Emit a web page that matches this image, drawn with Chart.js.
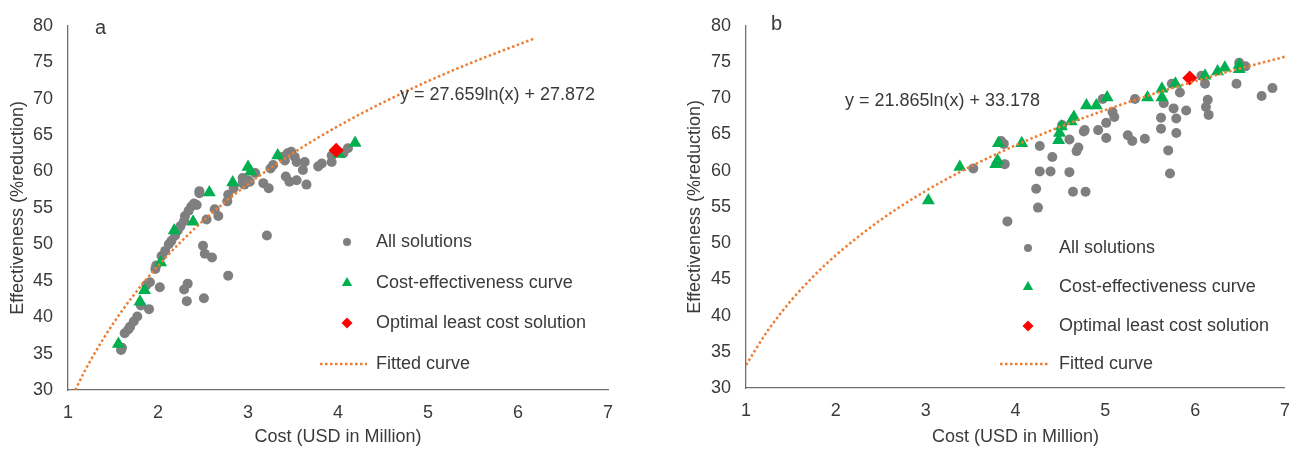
<!DOCTYPE html>
<html><head><meta charset="utf-8">
<script src="https://cdn.jsdelivr.net/npm/chart.js@4.4.1/dist/chart.umd.min.js"></script>
<style>
html,body{margin:0;padding:0;background:#fff;}
#wrap{position:relative;width:1302px;height:449px;overflow:hidden;background:#fff;}
.pane{position:absolute;top:0;width:651px;height:449px;}
#pa{left:0}#pb{left:651px}
</style></head><body>
<div id="wrap">
<div class="pane" id="pa"><canvas id="ca" width="651" height="449"></canvas></div>
<div class="pane" id="pb"><canvas id="cb" width="651" height="449"></canvas></div>
</div>
<script>
// ---------- tick labels ----------
const xTickValues = [1, 2, 3, 4, 5, 6, 7];
const yTickValues = [30, 35, 40, 45, 50, 55, 60, 65, 70, 75, 80];
const xTitle = 'Cost (USD in Million)';
const yTitle = 'Effectiveness (%reduction)';
const legendLabels = ['All solutions', 'Cost-effectiveness curve', 'Optimal least cost solution', 'Fitted curve'];

// ---------- panel a ----------
const aAllX = [1.59,1.60,1.63,1.67,1.69,1.73,1.77,1.81,1.90,1.87,1.91,1.97,1.98,2.02,2.04,2.08,2.12,2.15,2.19,2.22,2.25,2.29,2.30,2.34,2.37,2.40,2.43,2.46,2.46,2.54,2.63,2.67,2.77,2.78,2.84,2.94,3.00,2.94,2.96,3.02,3.08,3.17,3.23,3.25,3.28,3.44,3.48,3.52,3.54,3.63,3.61,3.42,3.46,3.54,3.65,3.78,3.82,3.93,3.93,4.06,4.11,3.21,2.50,2.52,2.60,2.78,2.33,2.29,2.32,2.51,3.38,3.41];
const aAllY = [35.5,35.8,37.8,38.3,38.7,39.4,40.1,41.6,41.1,44.4,44.8,46.6,47.1,44.1,48.4,49.1,50.0,50.5,51.2,51.9,52.5,53.2,53.9,54.6,55.2,55.6,55.4,57.3,57.0,53.4,54.8,53.9,55.9,56.8,57.7,58.4,58.8,59.1,58.2,58.6,59.8,58.4,57.7,60.4,60.9,62.5,62.7,62.0,61.3,61.3,60.2,59.3,58.6,58.8,58.2,60.7,61.1,61.3,62.2,62.5,63.2,51.2,49.8,48.7,48.2,45.7,44.6,43.8,42.2,42.6,62.0,61.5];
const aCurveX = [1.56,1.80,1.85,2.03,2.18,2.39,2.57,2.83,3.00,3.03,3.33,4.01,4.19];
const aCurveY = [36.3,42.1,43.7,47.5,51.9,53.1,57.1,58.5,60.6,60.0,62.2,62.4,63.9];
const aOptX = [3.98];
const aOptY = [62.9];
// fitted trendline y = 27.659ln(x) + 27.872
const aFitX = [1.08,1.2,1.4,1.6,1.8,2.0,2.3,2.6,3.0,3.5,4.0,4.5,5.0,5.5,6.17];
const aFitY = [30.00,32.92,37.18,40.87,44.13,47.04,50.91,54.30,58.26,62.52,66.22,69.47,72.39,75.02,78.20];
const aEquation = 'y = 27.659ln(x) + 27.872';

// ---------- panel b ----------
const bAllX = [3.53,3.87,3.88,3.91,4.27,4.41,4.27,4.39,4.23,4.25,4.60,4.64,4.78,4.60,4.70,4.68,4.77,4.76,4.92,5.01,5.01,5.08,5.10,4.97,5.25,5.30,5.33,5.44,5.62,5.62,5.65,5.70,5.72,5.76,5.79,5.79,5.83,5.74,5.90,6.07,6.11,6.14,6.12,6.15,6.46,6.49,6.56,6.74,6.86,3.84,4.52];
const bAllY = [60.3,63.7,60.9,53.0,63.4,61.9,59.9,59.9,57.5,54.9,59.8,57.1,57.1,64.3,63.2,62.7,65.6,65.4,65.6,66.6,64.5,68.1,67.4,69.9,64.9,64.1,69.9,64.4,67.3,65.8,69.3,62.8,59.6,68.6,67.2,65.2,70.8,72.0,68.3,73.1,72.0,69.8,68.8,67.7,72.0,74.9,74.4,70.3,71.4,64.1,66.3];
const bCurveX = [3.03,3.38,3.81,3.78,3.80,4.07,4.48,4.49,4.51,4.62,4.65,4.79,4.90,5.02,5.47,5.63,5.63,5.78,6.11,6.25,6.33,6.49,6.49];
const bCurveY = [55.9,60.5,63.8,60.9,61.4,63.8,64.2,65.2,66.1,66.8,67.4,69.0,69.0,70.1,70.1,71.3,70.1,72.0,73.1,73.7,74.2,74.6,74.0];
const bOptX = [5.94];
const bOptY = [72.8];
// fitted trendline y = 21.865ln(x) + 33.178
const bFitX = [1.0,1.25,1.5,1.75,2.0,2.5,3.0,3.5,4.0,4.5,5.0,5.5,6.0,6.5,7.0];
const bFitY = [33.18,38.06,42.04,45.41,48.33,53.21,57.20,60.57,63.49,66.07,68.37,70.45,72.36,74.11,75.73];
const bEquation = 'y = 21.865ln(x) + 33.178';

// ---------- styling ----------
const FONT = '"Liberation Sans", Arial, "DejaVu Sans", sans-serif';
const TXT = '#3a3a3a';
const GRAY = '#7f7f7f';
const GREEN = '#00b050';
const RED = '#ff0000';
const ORANGE = '#ed7d31';

function pts(xs, ys) { return xs.map((x, i) => ({x: x, y: ys[i]})); }

const annotPlugin = {
  id: 'annot',
  afterDatasetsDraw(chart, args, o) {
    const ctx = chart.ctx;
    ctx.save();
    ctx.fillStyle = TXT;
    ctx.textBaseline = 'middle';
    ctx.textAlign = 'left';
    ctx.font = '20px ' + FONT;
    ctx.fillText(o.letter, o.letterX, o.letterY);
    ctx.font = '18px ' + FONT;
    ctx.fillText(o.equation, o.eqX, o.eqY);
    // legend
    const L = o.legend;
    for (let i = 0; i < legendLabels.length; i++) {
      const y = L.y[i];
      const mx = L.markerX;
      ctx.beginPath();
      if (i === 0) {
        ctx.fillStyle = GRAY;
        ctx.arc(mx, y, 4, 0, Math.PI * 2);
        ctx.fill();
      } else if (i === 1) {
        const r = 6;
        ctx.fillStyle = GREEN;
        ctx.moveTo(mx, y - r);
        ctx.lineTo(mx + r * 0.866, y + r / 2);
        ctx.lineTo(mx - r * 0.866, y + r / 2);
        ctx.closePath();
        ctx.fill();
      } else if (i === 2) {
        const r = 5.5;
        ctx.fillStyle = RED;
        ctx.moveTo(mx, y - r);
        ctx.lineTo(mx + r, y);
        ctx.lineTo(mx, y + r);
        ctx.lineTo(mx - r, y);
        ctx.closePath();
        ctx.fill();
      } else {
        ctx.strokeStyle = ORANGE;
        ctx.lineWidth = 2.5;
        ctx.setLineDash([2.5, 2.5]);
        ctx.moveTo(L.lineX0, y);
        ctx.lineTo(L.lineX1, y);
        ctx.stroke();
        ctx.setLineDash([]);
      }
      ctx.fillStyle = TXT;
      ctx.fillText(legendLabels[i], L.textX, y);
    }
    ctx.restore();
  }
};

function makeChart(id, d, lay) {
  return new Chart(document.getElementById(id), {
    type: 'scatter',
    data: {
      datasets: [
        {label: legendLabels[3], data: pts(d.fitX, d.fitY), showLine: true, pointRadius: 0, borderColor: ORANGE,
         borderWidth: 2.5, borderDash: [2.5, 2.5], cubicInterpolationMode: 'monotone', fill: false, order: 1},
        {label: legendLabels[2], data: pts(d.optX, d.optY), pointStyle: 'rectRot', pointRadius: 7.5,
         backgroundColor: RED, borderWidth: 0, order: 2},
        {label: legendLabels[1], data: pts(d.curX, d.curY), pointStyle: 'triangle', pointRadius: 7.5,
         backgroundColor: GREEN, borderWidth: 0, order: 3},
        {label: legendLabels[0], data: pts(d.allX, d.allY), pointStyle: 'circle', pointRadius: 5,
         backgroundColor: GRAY, borderWidth: 0, order: 4}
      ]
    },
    options: {
      responsive: false,
      animation: false,
      events: [],
      layout: {padding: {left: 0, right: lay.padRight, top: lay.padTop, bottom: 0}},
      plugins: {
        legend: {display: false},
        tooltip: {enabled: false},
        annot: lay.annot
      },
      scales: {
        x: {
          type: 'linear', min: 1, max: 7,
          afterBuildTicks: s => { s.ticks = xTickValues.map(v => ({value: v})); },
          afterFit: s => { s.height = lay.xHeight; },
          grid: {display: false, drawTicks: false},
          border: {display: true, color: '#6f6f6f', width: 1.3},
          ticks: {padding: 12, color: TXT, font: {family: FONT, size: 18}, maxRotation: 0},
          title: {display: true, text: xTitle, color: TXT, font: {family: FONT, size: 18}, padding: {top: 0, bottom: 1}}
        },
        y: {
          type: 'linear', min: 30, max: 80,
          afterBuildTicks: s => { s.ticks = yTickValues.map(v => ({value: v})); },
          afterFit: s => { s.width = lay.yWidth; },
          grid: {display: false, drawTicks: false},
          border: {display: true, color: '#6f6f6f', width: 1.3},
          ticks: {padding: 15, color: TXT, font: {family: FONT, size: 18}},
          title: {display: true, text: yTitle, color: TXT, font: {family: FONT, size: 18}, padding: {top: lay.yTitlePad, bottom: 0}}
        }
      }
    },
    plugins: [annotPlugin]
  });
}

makeChart('ca',
  {allX: aAllX, allY: aAllY, curX: aCurveX, curY: aCurveY, optX: aOptX, optY: aOptY, fitX: aFitX, fitY: aFitY},
  {padRight: 43, padTop: 21, xHeight: 59, yWidth: 68, yTitlePad: 7,
   annot: {letter: 'a', letterX: 95, letterY: 28, equation: aEquation, eqX: 400, eqY: 95,
           legend: {markerX: 347, textX: 376, lineX0: 320, lineX1: 367, y: [242, 283, 323, 364]}}});

makeChart('cb',
  {allX: bAllX, allY: bAllY, curX: bCurveX, curY: bCurveY, optX: bOptX, optY: bOptY, fitX: bFitX, fitY: bFitY},
  {padRight: 9, padTop: 17, xHeight: 61, yWidth: 95, yTitlePad: 33,
   annot: {letter: 'b', letterX: 120, letterY: 24, equation: bEquation, eqX: 194, eqY: 101,
           legend: {markerX: 377, textX: 408, lineX0: 349, lineX1: 397, y: [248, 287, 326, 364]}}});
</script>
</body></html>
